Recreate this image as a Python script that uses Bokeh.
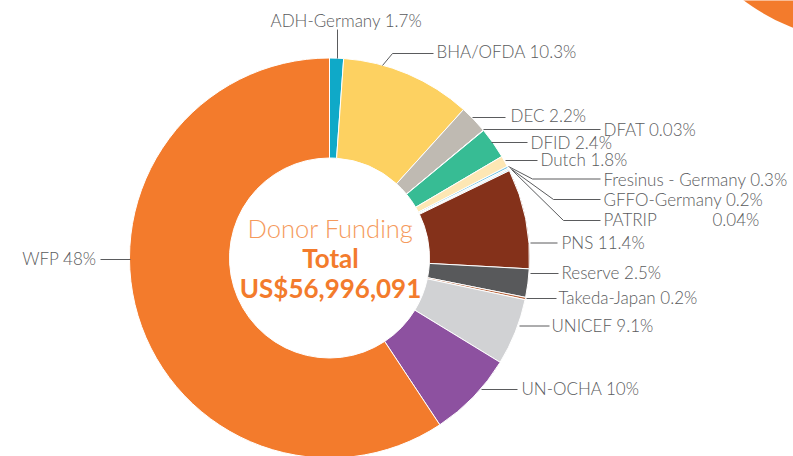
import math
from bokeh.plotting import figure
from bokeh.models import Range1d, ColumnDataSource
from bokeh.core.properties import value
from bokeh.embed import file_html
from bokeh.resources import INLINE

# ---- data ----
donors = ["ADH-Germany", "BHA/OFDA", "DEC", "DFAT", "DFID", "Dutch",
          "Fresinus - Germany", "GFFO-Germany", "PATRIP", "PNS", "Reserve",
          "Takeda-Japan", "UNICEF", "UN-OCHA", "WFP"]
label_pct = ["1.7%", "10.3%", "2.2%", "0.03%", "2.4%", "1.8%", "0.3%", "0.2%",
             "0.04%", "11.4%", "2.5%", "0.2%", "9.1%", "10%", "48%"]
# share of the circle each slice occupies as drawn (percent)
drawn_share = [1.13, 10.56, 2.28, 0.03, 2.53, 0.89, 0.17, 0.11, 0.11,
               8.06, 2.29, 0.19, 5.39, 6.97, 59.31]
colors = ["#0fa9c8", "#fdd161", "#bfbab2", "#9fcfe6", "#37bc94", "#fde7b4",
          "#7ec8e3", "#e6e6e6", "#a0d4ea", "#84311a", "#58595b", "#b9673f",
          "#d1d2d4", "#8d51a0", "#f37b2c"]
center_title = "Donor Funding"
center_sub = "Total"
center_total = "US$56,996,091"

# ---- layout (pixel coordinates of the reference picture) ----
W, H = 793, 456
CX, CY = 329, 257.5
R_OUT, R_IN = 200, 100

def sy(y):  # picture y -> data y
    return H - y

leaders = {
    "ADH-Germany": [(337, 29), (337, 58)],
    "BHA/OFDA": [(382, 65), (392, 53), (433, 53)],
    "DEC": [(472, 117), (505, 117)],
    "DFAT": [(483, 129), (600, 129)],
    "DFID": [(491, 142), (527, 142)],
    "Dutch": [(505, 160), (537, 160)],
    "Fresinus - Germany": [(508, 166), (532, 178.5), (600, 178.5)],
    "GFFO-Germany": [(510, 168), (553, 199), (600, 199)],
    "PATRIP": [(511.5, 169.5), (563, 220), (600, 220)],
    "PNS": [(530, 242.5), (557, 242.5)],
    "Reserve": [(530, 273), (558, 273)],
    "Takeda-Japan": [(526, 298), (556, 298)],
    "UNICEF": [(519, 325.5), (549, 325.5)],
    "UN-OCHA": [(481, 389), (517, 389)],
    "WFP": [(100, 259), (130, 259)],
}
text_pos = {
    "ADH-Germany": (270, 20, "left"),
    "BHA/OFDA": (436, 51, "left"),
    "DEC": (510, 115, "left"),
    "DFAT": (603, 128.5, "left"),
    "DFID": (530, 141.5, "left"),
    "Dutch": (540, 159, "left"),
    "Fresinus - Germany": (603, 179, "left"),
    "GFFO-Germany": (603, 199, "left"),
    "PATRIP": (603, 218.5, "left"),
    "PNS": (561, 241.5, "left"),
    "Reserve": (561, 272, "left"),
    "Takeda-Japan": (558, 297, "left"),
    "UNICEF": (551, 325, "left"),
    "UN-OCHA": (521, 388, "left"),
    "WFP": (96, 258, "right"),
}

p = figure(width=W, height=H, output_backend="svg", toolbar_location=None,
           x_range=Range1d(0, W), y_range=Range1d(0, H),
           x_axis_type=None, y_axis_type=None, min_border=0,
           outline_line_color=None, background_fill_color="white",
           border_fill_color="white")
p.grid.visible = False

# decorative circle top-right
p.circle(x=[870], y=[sy(-170)], radius=212, fill_color="#f37b2c", line_color=None)

# donut
total = sum(drawn_share)
starts, ends = [], []
cum = 0.0
for v in drawn_share:
    starts.append(math.pi / 2 - cum / total * 2 * math.pi)
    cum += v
    ends.append(math.pi / 2 - cum / total * 2 * math.pi)
src = ColumnDataSource(dict(start=starts, end=ends, color=colors, name=donors))
p.annular_wedge(x=CX, y=sy(CY), inner_radius=R_IN, outer_radius=R_OUT,
                start_angle="start", end_angle="end", direction="clock",
                fill_color="color", line_color="white", line_width=1, source=src)

# leaders and labels
LABEL_COLOR = "#5a5b5d"
FS = "17px"
LIGHT = value("Lato Light, Lato")
xs, ys = [], []
for d in donors:
    pts = leaders[d]
    xs.append([q[0] for q in pts])
    ys.append([sy(q[1]) for q in pts])
p.multi_line(xs=xs, ys=ys, line_color=LABEL_COLOR, line_width=1)

for d, pct in zip(donors, label_pct):
    x, y, al = text_pos[d]
    if d == "PATRIP":
        p.text(x=[x], y=[sy(y)], text=[d], text_font=LIGHT, text_font_size=FS,
               text_color=LABEL_COLOR, text_align="left", text_baseline="middle")
        p.text(x=[712], y=[sy(y)], text=[pct], text_font=LIGHT, text_font_size=FS,
               text_color=LABEL_COLOR, text_align="left", text_baseline="middle")
        continue
    p.text(x=[x], y=[sy(y)], text=[f"{d} {pct}"], text_font=LIGHT,
           text_font_size=FS, text_color=LABEL_COLOR, text_align=al,
           text_baseline="middle")

# center texts
p.text(x=[CX + 1], y=[sy(227)], text=[center_title], text_font=LIGHT,
       text_font_size="25.5px", text_color="#f59a5c", text_align="center",
       text_baseline="middle")
p.text(x=[CX + 1], y=[sy(257)], text=[center_sub], text_font=value("Lato"),
       text_font_size="26px", text_font_style="bold", text_color="#f37b2c",
       text_align="center", text_baseline="middle")
p.text(x=[CX + 1], y=[sy(287)], text=[center_total], text_font=value("Lato"),
       text_font_size="26px", text_font_style="bold", text_color="#f37b2c",
       text_align="center", text_baseline="middle")

open("out.html", "w").write(file_html(p, INLINE))
